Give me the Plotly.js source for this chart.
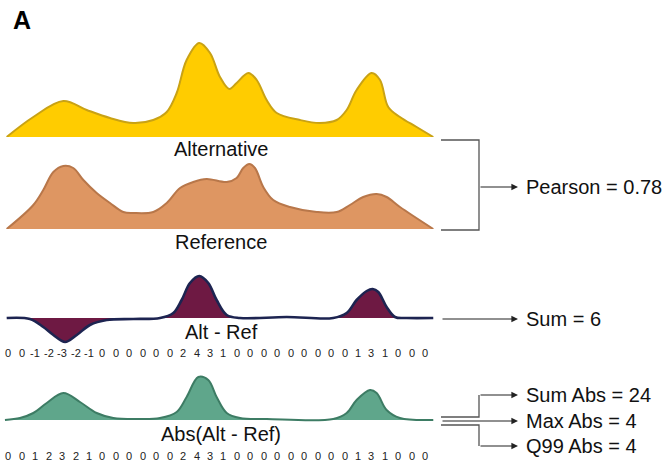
<!DOCTYPE html>
<html>
<head>
<meta charset="utf-8">
<script src="https://cdn.plot.ly/plotly-3.0.1.min.js"></script>
<style>html,body{margin:0;padding:0;background:#fff}#chart{width:672px;height:465px}</style>
</head>
<body>
<div id="chart"></div>
<script>
// ---- data (x in bin-index units, heights in arbitrary density units) ----
const altX = [-0.12, 1.86, 4.09, 5.83, 7.56, 9.29, 10.78, 11.78, 12.52, 13.26, 14.2, 15.0, 15.74, 16.43, 16.98, 17.85, 18.47, 19.21, 19.96, 21.69, 23.17, 24.42, 25.16, 25.9, 27.02, 27.64, 28.25, 29.12, 30.36, 31.6];
const altY = [0, 20, 36, 27, 19, 14, 17, 25, 44, 77, 94, 84, 60, 48, 54, 64, 57, 37, 24, 17, 14, 17, 27, 47, 64, 57, 30, 20, 10, 0];

const refX = [-0.12, 1.86, 2.6, 3.35, 4.09, 4.83, 5.58, 6.57, 7.56, 8.55, 9.29, 10.78, 11.78, 12.77, 13.75, 14.75, 16.24, 16.98, 17.47, 17.92, 18.34, 18.96, 19.7, 20.94, 22.93, 24.42, 25.4, 26.39, 27.39, 28.13, 29.12, 31.6];
const refY = [0, 24, 39, 57, 63, 61, 49, 36, 26, 17, 16, 17, 26, 41, 47, 50, 47, 51, 61, 65, 61, 42, 29, 22, 17, 17, 24, 32, 35, 32, 22, 0];

const diffX = [-0.12, 1.61, 2.6, 3.35, 4.22, 5.09, 6.07, 7.32, 9.29, 11.28, 12.27, 12.89, 13.51, 14.2, 14.87, 15.49, 16.24, 17.23, 20.7, 24.16, 25.16, 25.9, 26.65, 27.09, 27.51, 28.13, 28.75, 29.62, 31.6];
const diffY = [0, -1, -9, -17, -24, -17, -7, -2, -1, 0, 5, 18, 35, 42, 35, 18, 3, 0, 1, 0, 5, 18, 27, 29, 26, 11, 1, 0, 0];

const absX = [-0.25, 0.87, 1.86, 2.86, 4.09, 5.33, 6.57, 7.81, 9.79, 11.28, 12.52, 13.26, 14.13, 14.87, 15.49, 16.24, 17.23, 19.21, 24.16, 25.16, 25.9, 26.89, 27.39, 28.13, 29.12, 31.6];
const absY = [0, 2, 7, 17, 27, 18, 7, 2, 1, 2, 8, 23, 43, 40, 23, 7, 2, 1, 1, 7, 20, 30, 27, 10, 2, 0];

const diffValues = [0, 0, -1, -2, -3, -2, -1, 0, 0, 0, 0, 0, 0, 2, 4, 3, 1, 0, 0, 0, 0, 0, 0, 0, 0, 0, 1, 3, 1, 0, 0, 0];
const absValues  = [0, 0, 1, 2, 3, 2, 1, 0, 0, 0, 0, 0, 0, 2, 4, 3, 1, 0, 0, 0, 0, 0, 0, 0, 0, 0, 1, 3, 1, 0, 0, 0];

const curveLabels = ["Alternative", "Reference", "Alt - Ref", "Abs(Alt - Ref)"];
const statLabels = ["Pearson = 0.78", "Sum = 6", "Sum Abs = 24", "Max Abs = 4", "Q99 Abs = 4"];

// ---- drawing ----
const W = 672, H = 465;
const px = v => v / W;          // pixel -> paper x
const py = v => 1 - v / H;      // pixel -> paper y
const FONT = "Liberation Sans, Arial, sans-serif";

function curve(x, y, yaxis, fill, line, lw) {
  return {x: x, y: y, yaxis: yaxis, type: 'scatter', mode: 'lines',
    line: {shape: 'spline', smoothing: 1, color: line, width: lw},
    fill: 'tozeroy', fillcolor: fill, hoverinfo: 'skip'};
}
const traces = [
  curve(altX, altY, 'y', '#FFCC00', '#C9A214', 2),
  curve(refX, refY, 'y2', '#DE9662', '#B8774A', 2),
  curve(diffX, diffY, 'y3', '#6E1943', '#1D2451', 2.6),
  curve(absX, absY, 'y4', '#5FA68B', '#3D7C64', 2)
];

const ann = [];
ann.push({xref: 'paper', yref: 'paper', x: px(22), y: py(20), text: '<b>A</b>', showarrow: false,
  font: {family: FONT, size: 25, color: '#000'}, xanchor: 'center', yanchor: 'middle'});
const labelY = [149, 242, 332, 434];
curveLabels.forEach((t, i) => ann.push({xref: 'paper', yref: 'paper', x: px(221), y: py(labelY[i]), text: t,
  showarrow: false, font: {family: FONT, size: 20, color: '#111'}, xanchor: 'center', yanchor: 'middle'}));
diffValues.forEach((v, i) => ann.push({xref: 'x', yref: 'paper', x: i, y: py(353), text: String(v), showarrow: false,
  font: {family: FONT, size: 11, color: '#222'}, xanchor: 'center', yanchor: 'middle'}));
absValues.forEach((v, i) => ann.push({xref: 'x', yref: 'paper', x: i, y: py(456), text: String(v), showarrow: false,
  font: {family: FONT, size: 11, color: '#222'}, xanchor: 'center', yanchor: 'middle'}));

// arrows: [headX, y, tailX]
const arrows = [[518, 187, 479], [518, 319, 441], [518, 395, 479], [518, 421, 441], [518, 446, 479]];
arrows.forEach(a => ann.push({xref: 'paper', yref: 'paper', x: px(a[0]), y: py(a[1]), ax: a[2] - a[0], ay: 0,
  text: '', showarrow: true, arrowhead: 2, arrowsize: 1.1, arrowwidth: 1.2, arrowcolor: '#222', standoff: 0}));
const statY = [187, 319, 395, 421, 446];
statLabels.forEach((t, i) => ann.push({xref: 'paper', yref: 'paper', x: px(524), y: py(statY[i]), text: t,
  showarrow: false, font: {family: FONT, size: 20, color: '#111'}, xanchor: 'left', yanchor: 'middle'}));

function seg(pts) {
  return {type: 'path', xref: 'paper', yref: 'paper',
    path: pts.map((p, i) => (i ? 'L' : 'M') + px(p[0]) + ',' + py(p[1])).join(' '),
    line: {color: '#555', width: 1.3}};
}
const shapes = [
  seg([[441, 140], [479, 140], [479, 230], [441, 230]]),
  seg([[441, 417], [479, 417], [479, 395]]),
  seg([[441, 425], [479, 425], [479, 446]])
];

const yax = (lo, hi, d0, d1) => ({visible: false, range: [lo, hi], domain: [py(d0), py(d1)], fixedrange: true});
const layout = {
  width: W, height: H, margin: {l: 0, r: 0, t: 0, b: 0},
  paper_bgcolor: '#fff', plot_bgcolor: 'rgba(0,0,0,0)', showlegend: false,
  xaxis: {visible: false, range: [-0.617, 49.35], fixedrange: true},
  yaxis: yax(0, 137, 137, 0),
  yaxis2: yax(0, 100, 229, 129),
  yaxis3: yax(-30, 50, 348, 268),
  yaxis4: yax(-10, 60, 430, 360),
  annotations: ann, shapes: shapes
};
Plotly.newPlot('chart', traces, layout, {staticPlot: true, displayModeBar: false});
</script>
</body>
</html>
